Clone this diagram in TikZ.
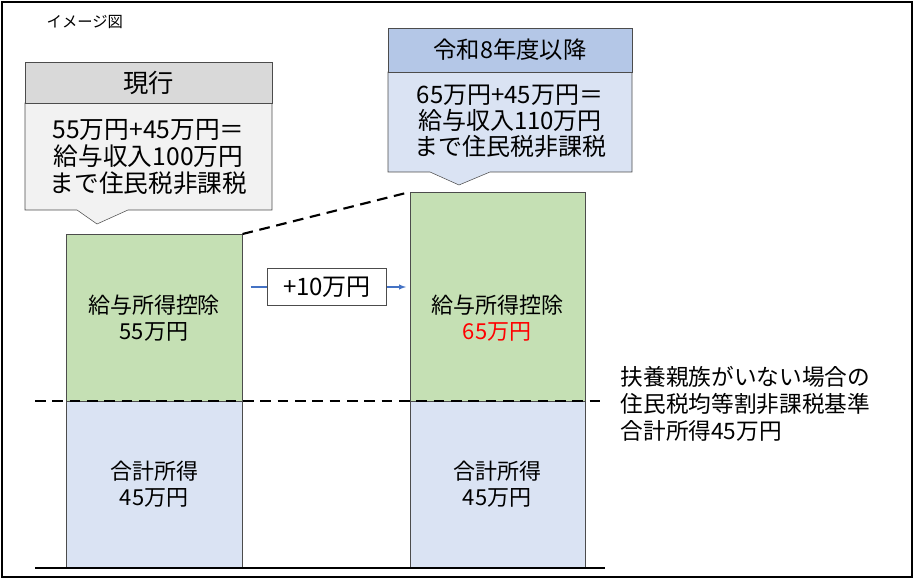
\documentclass[tikz,border=0pt]{standalone}
\usepackage{fontspec}
\setmainfont{Noto Sans CJK JP}
\usetikzlibrary{calc}
\definecolor{barGreen}{HTML}{C5E0B4}
\definecolor{barBlue}{HTML}{DAE3F3}
\definecolor{headBlue}{HTML}{B4C7E7}
\definecolor{headGray}{HTML}{D9D9D9}
\definecolor{bodyGray}{HTML}{F2F2F2}
\definecolor{arrBlue}{HTML}{4472C4}
\tikzset{
  bar/.style={draw=black!70,thin,anchor=north west,inner sep=0pt},
  lbl/.style={font=\fontsize{16.5}{19.5}\selectfont,align=center},
}
\begin{document}
\begin{tikzpicture}[x=0.75pt,y=-0.75pt]
\useasboundingbox (0,0) rectangle (915,580);
\draw[line width=1.2pt] (2,2) rectangle (912,577);
\node[anchor=west,font=\fontsize{11.5}{13}\selectfont] (title) at (42,22) {イメージ図};

% left callout
\draw[black!70,fill=bodyGray] (25,103) -- (272,103) -- (272,210) -- (128,210) -- (97,224) -- (77,210) -- (25,210) -- cycle;
\draw[black!70,fill=headGray] (25,62) rectangle (272,103);
\node[font=\fontsize{19}{22}\selectfont] (nowhead) at (148.5,83) {現行};
\node[lbl,font=\fontsize{18.5}{20.5}\selectfont] (nowbody) at (148.5,157) {55万円+45万円＝\\給与収入100万円\\まで住民税非課税};

% right callout
\draw[black!70,fill=barBlue] (388,72) -- (632,72) -- (632,172) -- (490,172) -- (459,185) -- (430,172) -- (388,172) -- cycle;
\draw[black!70,fill=headBlue] (388,28) rectangle (632,72);
\node[font=\fontsize{17.5}{20}\selectfont] (newhead) at (510,50) {令和8年度以降};
\node[lbl,font=\fontsize{18}{19.5}\selectfont] (newbody) at (510,121) {65万円+45万円＝\\給与収入110万円\\まで住民税非課税};

% bars
\node[bar,fill=barGreen,minimum width=176*0.75pt,minimum height=167*0.75pt] (ldeduct) at (66,234) {};
\node[bar,fill=barBlue,minimum width=176*0.75pt,minimum height=167*0.75pt] (lincome) at (66,401) {};
\node[bar,fill=barGreen,minimum width=175*0.75pt,minimum height=209*0.75pt] (rdeduct) at (410,192) {};
\node[bar,fill=barBlue,minimum width=175*0.75pt,minimum height=167*0.75pt] (rincome) at (410,401) {};
\node[lbl] at (154,318) {給与所得控除\\55万円};
\node[lbl] at (154,484) {合計所得\\45万円};
\node[lbl] at (497,318) {給与所得控除\\\textcolor{red}{65万円}};
\node[lbl] at (497,484) {合計所得\\45万円};

% increase
\node[draw=black!70,lbl,font=\fontsize{18}{20}\selectfont,minimum width=119*0.75pt,minimum height=37*0.75pt,inner sep=0pt] (plus) at (327,287) {+10万円};
\draw[arrBlue,thick,shorten <=6pt] (ldeduct.east|-plus) -- (plus.west);
\draw[arrBlue,thick,-latex,shorten >=3pt] (plus.east) -- (rdeduct.west|-plus);
\draw[dashed,line width=1.6pt,dash pattern=on 8pt off 5pt] (ldeduct.north east) -- (rdeduct.north west);

% lines
\draw[dashed,line width=1.6pt,dash pattern=on 8pt off 5pt] (35,401) -- (605,401);
\draw[line width=1pt] (35,568) -- (605,568);
\node[lbl,align=left,anchor=west,font=\fontsize{17}{20}\selectfont] (rule) at (616,404) {扶養親族がいない場合の\\住民税均等割非課税基準\\合計所得45万円};
\end{tikzpicture}
\end{document}
